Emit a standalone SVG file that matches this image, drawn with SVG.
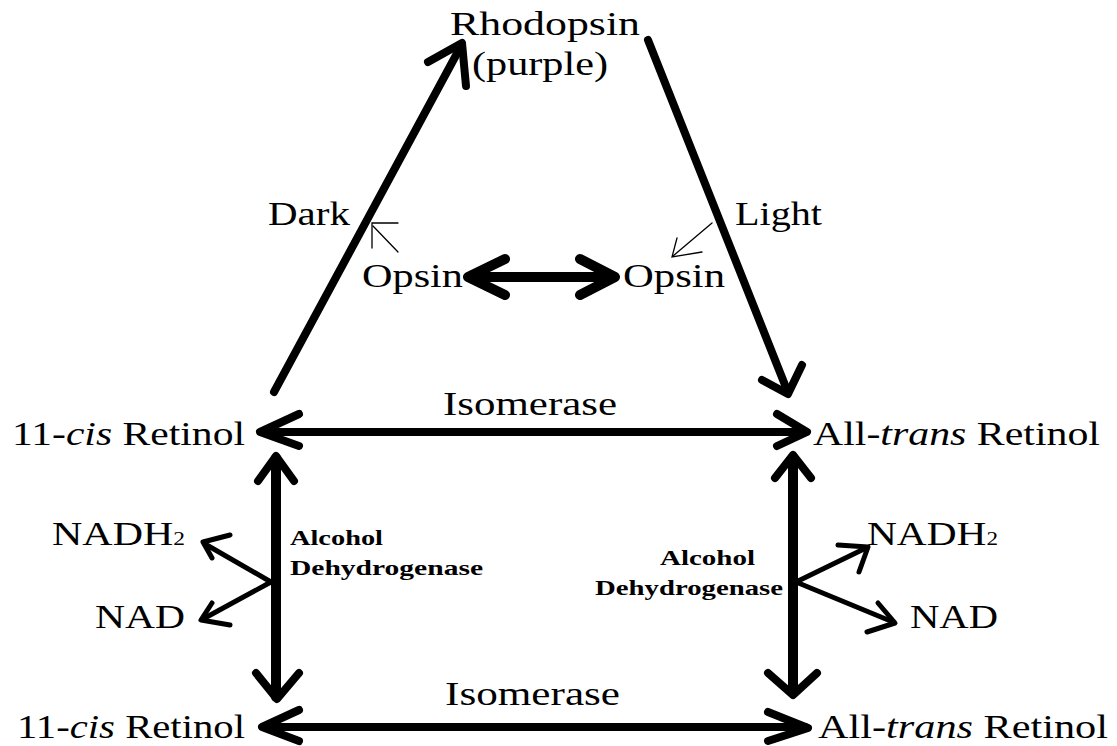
<svg xmlns="http://www.w3.org/2000/svg" width="1117" height="746" viewBox="0 0 1117 746">
<style>
text{font-family:"Liberation Serif","Times New Roman",serif;fill:#000;}
.m{font-size:34px;}
.b{font-size:21px;font-weight:bold;}
.s{font-size:19px;}
.thick{fill:none;stroke:#000;stroke-width:8;stroke-linecap:round;stroke-linejoin:round;}
.thick10{fill:none;stroke:#000;stroke-width:10;stroke-linecap:round;stroke-linejoin:round;}
.mid{fill:none;stroke:#000;stroke-width:5;stroke-linecap:round;stroke-linejoin:round;}
.thin{fill:none;stroke:#000;stroke-width:1.3;stroke-linecap:round;}
</style>
<rect width="1117" height="746" fill="#fff"/>
<g id="rhodopsin">
<text class="m" x="450" y="35" textLength="190" lengthAdjust="spacingAndGlyphs">Rhodopsin</text>
<text class="m" x="472" y="75" textLength="136" lengthAdjust="spacingAndGlyphs">(purple)</text>
</g>
<g id="dark"><text class="m" x="268" y="225" textLength="82" lengthAdjust="spacingAndGlyphs">Dark</text></g>
<g id="light"><text class="m" x="735" y="225" textLength="87" lengthAdjust="spacingAndGlyphs">Light</text></g>
<g id="opsin-left"><text class="m" x="362" y="287" textLength="101" lengthAdjust="spacingAndGlyphs">Opsin</text></g>
<g id="opsin-right"><text class="m" x="623" y="287" textLength="102" lengthAdjust="spacingAndGlyphs">Opsin</text></g>
<g id="isomerase-top"><text class="m" x="443" y="415" textLength="174" lengthAdjust="spacingAndGlyphs">Isomerase</text></g>
<g id="cis-top"><text class="m" x="12" y="445" textLength="233" lengthAdjust="spacingAndGlyphs">11-<tspan font-style="italic">cis</tspan> Retinol</text></g>
<g id="trans-top"><text class="m" x="813" y="445" textLength="287" lengthAdjust="spacingAndGlyphs">All-<tspan font-style="italic">trans</tspan> Retinol</text></g>
<g id="nadh2-left"><text class="m" x="52" y="545" textLength="133" lengthAdjust="spacingAndGlyphs">NADH<tspan class="s">2</tspan></text></g>
<g id="nad-left"><text class="m" x="95" y="628" textLength="90" lengthAdjust="spacingAndGlyphs">NAD</text></g>
<g id="adh-left">
<text class="b" x="290" y="545" textLength="93" lengthAdjust="spacingAndGlyphs">Alcohol</text>
<text class="b" x="290" y="575" textLength="193" lengthAdjust="spacingAndGlyphs">Dehydrogenase</text>
</g>
<g id="adh-right">
<text class="b" x="660" y="565" textLength="95" lengthAdjust="spacingAndGlyphs">Alcohol</text>
<text class="b" x="595" y="595" textLength="188" lengthAdjust="spacingAndGlyphs">Dehydrogenase</text>
</g>
<g id="nadh2-right"><text class="m" x="867" y="545" textLength="131" lengthAdjust="spacingAndGlyphs">NADH<tspan class="s">2</tspan></text></g>
<g id="nad-right"><text class="m" x="910" y="628" textLength="88" lengthAdjust="spacingAndGlyphs">NAD</text></g>
<g id="isomerase-bottom"><text class="m" x="445" y="705" textLength="175" lengthAdjust="spacingAndGlyphs">Isomerase</text></g>
<g id="cis-bottom"><text class="m" x="17" y="738" textLength="228" lengthAdjust="spacingAndGlyphs">11-<tspan font-style="italic">cis</tspan> Retinol</text></g>
<g id="trans-bottom"><text class="m" x="818" y="738" textLength="290" lengthAdjust="spacingAndGlyphs">All-<tspan font-style="italic">trans</tspan> Retinol</text></g>
<g id="connectors">
<!-- Dark arrow -->
<path class="thick" d="M274 392 L461 46"/>
<path class="thick" d="M428 62 L462 43 L466 86"/>
<!-- Light arrow -->
<path class="thick" d="M648 40 L787 390"/>
<path class="thick" d="M762 380 L788 394 L802 365"/>
<!-- Opsin double arrow -->
<path class="thick10" d="M470 277 L612 277"/>
<path class="thick10" d="M505 259 L468 277 L505 295"/>
<path class="thick10" d="M580 259 L615 277 L580 295"/>
<!-- thin arrows -->
<path class="thin" d="M398 252 L373 226"/>
<path class="thin" d="M398 223 L372 223 L372 248"/>
<path class="thin" d="M712 223 L673 256"/>
<path class="thin" d="M702 252 L672 257 L677 238"/>
<!-- Isomerase top -->
<path class="thick" d="M263 432 L804 432"/>
<path class="thick" d="M299 414 L260 432 L299 446"/>
<path class="thick" d="M777 414 L807 432 L777 446"/>
<!-- Isomerase bottom -->
<path class="thick" d="M264 727 L805 727"/>
<path class="thick" d="M299 710 L262 727 L299 741"/>
<path class="thick" d="M768 712 L808 728 L768 741"/>
<!-- Left vertical -->
<path class="thick10" d="M276 458 L276 697"/>
<path class="thick" d="M258 481 L276 456 L294 481"/>
<path class="thick" d="M256 673 L277 699 L299 673"/>
<!-- Right vertical -->
<path class="thick10" d="M793 458 L793 692"/>
<path class="thick" d="M775 478 L793 455 L811 478"/>
<path class="thick" d="M768 673 L793 695 L817 673"/>
<!-- Left branches -->
<path class="mid" d="M271 582 L205 544"/>
<path class="mid" d="M230 535 L203 542 L212 558"/>
<path class="mid" d="M271 582 L203 619"/>
<path class="mid" d="M212 603 L201 620 L230 625"/>
<!-- Right branches -->
<path class="mid" d="M796 582 L866 548"/>
<path class="mid" d="M838 545 L868 547 L859 572"/>
<path class="mid" d="M796 582 L893 622"/>
<path class="mid" d="M878 603 L895 623 L867 632"/>
</g>
</svg>
